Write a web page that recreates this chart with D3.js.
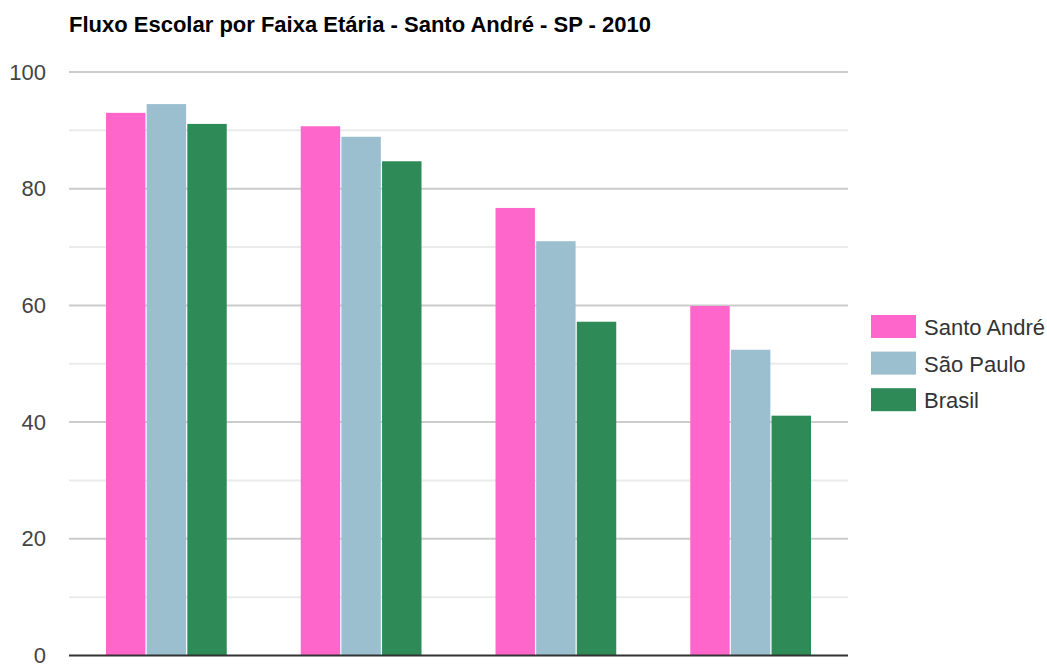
<!DOCTYPE html>
<html><head><meta charset="utf-8">
<script src="https://cdn.jsdelivr.net/npm/d3@7"></script>
<style>body{margin:0;background:#fff}svg{display:block}</style>
</head><body>
<svg id="c" width="1047" height="664"></svg>
<script>
const title = "Fluxo Escolar por Faixa Etária - Santo André - SP - 2010";
const categories = ["5 a 6 anos", "11 a 13 anos", "15 a 17 anos", "18 a 20 anos"];
const seriesNames = ["Santo André", "São Paulo", "Brasil"];
const santoAndre = [93.0, 90.7, 76.7, 59.9];
const saoPaulo = [94.5, 88.9, 71.0, 52.4];
const brasil = [91.1, 84.7, 57.2, 41.1];
const colors = ["#ff66cc", "#9bbfce", "#2e8b57"];
const yTicks = [0, 20, 40, 60, 80, 100];
const yMinor = [10, 30, 50, 70, 90];

const series = [santoAndre, saoPaulo, brasil];
const svg = d3.select("#c");
const L = 69, R = 848, T = 72, B = 655.5;
const FONT = "Liberation Sans, Arial, sans-serif";

const x = d3.scaleBand().domain(categories).range([L, R]).paddingInner(0.38).paddingOuter(0.19);
const xi = d3.scaleBand().domain(seriesNames).range([0, x.bandwidth()]).paddingInner(0.03);
const y = d3.scaleLinear().domain([0, 100]).range([B, T]);

svg.append("text").attr("x", 69).attr("y", 32).attr("font-family", FONT)
  .attr("font-size", 22).attr("font-weight", "bold").attr("fill", "#000").text(title);

const g = svg.append("g");
g.selectAll(".minor").data(yMinor).join("line")
  .attr("x1", L).attr("x2", R).attr("y1", d => y(d)).attr("y2", d => y(d))
  .attr("stroke", "#ebebeb").attr("stroke-width", 2);
g.selectAll(".major").data(yTicks.filter(d => d > 0)).join("line")
  .attr("x1", L).attr("x2", R).attr("y1", d => y(d)).attr("y2", d => y(d))
  .attr("stroke", "#cccccc").attr("stroke-width", 2);

const yAxis = d3.axisLeft(y).tickValues(yTicks).tickSize(0).tickPadding(23);
const ya = svg.append("g").attr("transform", `translate(${L},0)`).call(yAxis);
ya.select(".domain").remove();
ya.selectAll("text").attr("font-family", FONT).attr("font-size", 22).attr("fill", "#444");

categories.forEach((c, i) => {
  series.forEach((s, j) => {
    svg.append("rect")
      .attr("x", x(c) + xi(seriesNames[j])).attr("width", xi.bandwidth())
      .attr("y", y(s[i])).attr("height", y(0) - y(s[i]))
      .attr("fill", colors[j]);
  });
});

svg.append("line").attr("x1", L).attr("x2", R).attr("y1", y(0)).attr("y2", y(0))
  .attr("stroke", "#333").attr("stroke-width", 2);

const lg = svg.append("g").attr("transform", "translate(871,315)");
seriesNames.forEach((n, j) => {
  const row = lg.append("g").attr("transform", `translate(0,${j * 36.6})`);
  row.append("rect").attr("width", 45).attr("height", 23).attr("fill", colors[j]);
  row.append("text").attr("x", 53).attr("y", 20)
    .attr("font-family", FONT).attr("font-size", 22).attr("fill", "#333").text(n);
});
</script>
</body></html>
